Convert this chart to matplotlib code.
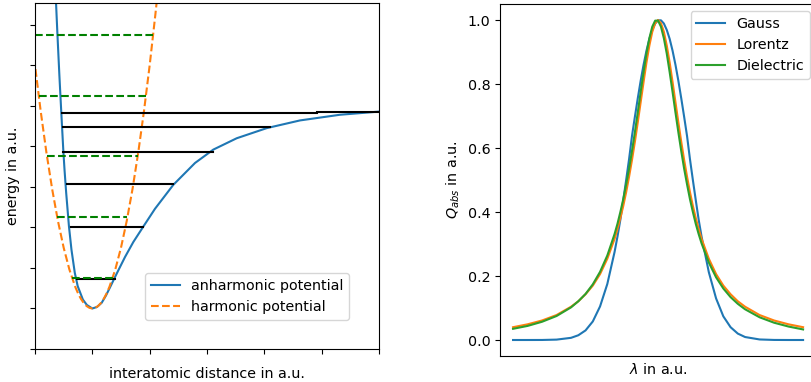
import numpy as np
import matplotlib.pyplot as plt

plt.rcParams['font.size'] = 10.3

# --- left panel: potentials ---
morse_x = [0.365, 0.390, 0.425, 0.458, 0.493, 0.515, 0.544, 0.592, 0.636, 0.694, 0.745,
           0.835, 0.905, 1.0, 1.081, 1.163, 1.238, 1.308, 1.425, 1.570, 1.715, 1.889,
           2.093, 2.412, 2.791, 3.110, 3.518, 4.042, 4.622, 5.32, 6.02]
morse_y = [7.60, 6.80, 5.76, 4.85, 3.92, 3.42, 2.85, 2.03, 1.45, 0.88, 0.55,
           0.22, 0.086, 0.0, 0.037, 0.14, 0.32, 0.52, 0.86, 1.27, 1.64, 2.02,
           2.46, 3.05, 3.59, 3.92, 4.20, 4.45, 4.64, 4.78, 4.86]

harm_x = [-0.12, 0.0, 0.1, 0.2, 0.3, 0.4, 0.5, 0.6, 0.7, 0.75, 0.8, 0.85, 0.9, 0.95, 1.0,
          1.05, 1.1, 1.15, 1.2, 1.25, 1.3, 1.4, 1.5, 1.6, 1.7, 1.8, 1.9, 2.0, 2.1, 2.14]
harm_y = [7.53, 6.0, 4.86, 3.84, 2.94, 2.16, 1.5, 0.96, 0.54, 0.375, 0.24, 0.135, 0.06, 0.015, 0.0,
          0.015, 0.06, 0.135, 0.24, 0.375, 0.54, 0.96, 1.5, 2.16, 2.94, 3.84, 4.86, 6.0, 7.26, 7.8]

# anharmonic levels: energy, left end, right end
anh_E = [0.73, 2.0, 3.07, 3.87, 4.48, 4.83, 4.86]
anh_left = [0.727, 0.628, 0.553, 0.494, 0.483, 0.466, 4.91]
anh_right = [1.395, 1.889, 2.41, 3.11, 4.10, 4.91, 6.0]

# harmonic levels
harm_E = [0.75, 2.25, 3.75, 5.25, 6.75]
harm_left = [0.646, 0.388, 0.209, 0.065, 0.0]
harm_right = [1.354, 1.612, 1.79, 1.935, 2.06]

# --- right panel: line shapes ---
lam = [0, 5, 10, 15, 20, 22.5, 25, 27.5, 30, 32.5, 35, 36, 37, 38, 39, 40, 41, 42, 43, 44,
       45, 46, 47, 48, 49, 50, 51, 52, 53, 54, 55, 56, 57, 58, 59, 60, 61, 62, 63, 64,
       65, 67.5, 70, 72.5, 75, 77.5, 80, 85, 90, 95, 100]
gauss = [0.0, 0.0, 0.0001, 0.0012, 0.0068, 0.0148, 0.030, 0.058, 0.105, 0.175, 0.275,
         0.323, 0.376, 0.437, 0.500, 0.565, 0.637, 0.697, 0.755, 0.810,
         0.860, 0.904, 0.941, 0.969, 0.989, 0.999, 0.999, 0.989, 0.969, 0.941,
         0.904, 0.860, 0.810, 0.755, 0.697, 0.637, 0.565, 0.500, 0.437, 0.376,
         0.323, 0.212, 0.130, 0.074, 0.040, 0.020, 0.0093, 0.0017, 0.0002, 0.0, 0.0]
lorentz = [0.040, 0.049, 0.061, 0.078, 0.104, 0.121, 0.143, 0.170, 0.206, 0.254, 0.316,
           0.347, 0.381, 0.419, 0.462, 0.510, 0.562, 0.619, 0.680, 0.743,
           0.806, 0.867, 0.920, 0.963, 0.990, 1.0, 0.990, 0.963, 0.920, 0.867,
           0.806, 0.743, 0.680, 0.619, 0.562, 0.510, 0.462, 0.419, 0.381, 0.347,
           0.316, 0.254, 0.206, 0.170, 0.143, 0.121, 0.104, 0.078, 0.061, 0.049, 0.040]
dielectric = [0.035, 0.044, 0.057, 0.075, 0.102, 0.121, 0.144, 0.174, 0.213, 0.264, 0.331,
              0.363, 0.400, 0.440, 0.486, 0.535, 0.590, 0.649, 0.711, 0.775,
              0.837, 0.895, 0.943, 0.979, 0.998, 0.998, 0.979, 0.943, 0.895, 0.837,
              0.775, 0.711, 0.649, 0.590, 0.535, 0.486, 0.440, 0.400, 0.363, 0.331,
              0.302, 0.242, 0.196, 0.161, 0.134, 0.113, 0.096, 0.071, 0.054, 0.042, 0.033]

fig = plt.figure(figsize=(8.11, 3.82), dpi=100)

ax1 = fig.add_axes([35/811, 33/382, 344/811, 345.7/382])
ax1.plot(morse_x, morse_y, color='C0', label='anharmonic potential')
ax1.plot(harm_x, harm_y, '--', color='C1', label='harmonic potential')
for E, a, b in zip(anh_E, anh_left, anh_right):
    ax1.plot([a, b], [E, E], color='k', lw=1.5)
for E, a, b in zip(harm_E, harm_left, harm_right):
    ax1.plot([a, b], [E, E], '--', color='g', lw=1.5)
ax1.set_xlim(0, 6)
ax1.set_ylim(-1, 7.53)
ax1.set_xticks(range(7))
ax1.set_yticks(range(-1, 8))
ax1.set_xticklabels([])
ax1.set_yticklabels([])
ax1.set_xlabel('interatomic distance in a.u.', labelpad=6)
ax1.set_ylabel('energy in a.u.')
ax1.legend(loc='lower right', bbox_to_anchor=(0.913, 0.084), borderaxespad=0)

ax2 = fig.add_axes([500/811, 26/382, 317/811, 352/382])
ax2.plot(lam, gauss, label='Gauss')
ax2.plot(lam, lorentz, label='Lorentz')
ax2.plot(lam, dielectric, label='Dielectric')
ax2.set_xlim(-4.5, 104.8)
ax2.set_ylim(-0.05, 1.05)
ax2.set_xticks([])
ax2.set_yticks([0.0, 0.2, 0.4, 0.6, 0.8, 1.0])
ax2.set_xlabel(r'$\lambda$ in a.u.')
ax2.set_ylabel(r'$Q_{abs}$ in a.u.')
ax2.legend(loc='upper right')

fig.savefig('out.png', dpi=100)
